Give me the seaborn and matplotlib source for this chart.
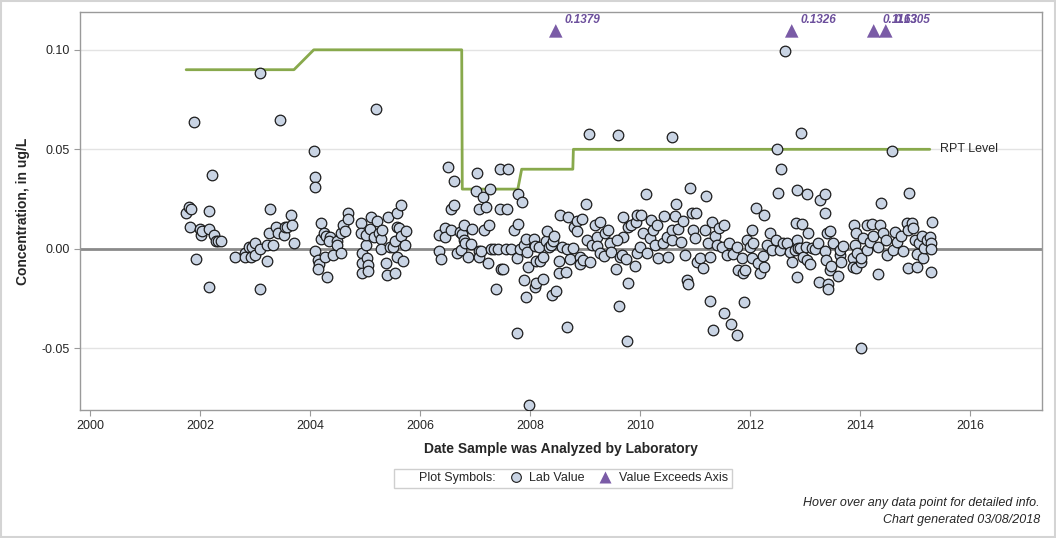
import numpy as np
import pandas as pd
import matplotlib
matplotlib.use('Agg')
import matplotlib.pyplot as plt
import seaborn as sns
from matplotlib.lines import Line2D
from matplotlib.patches import Rectangle

# lab values, grouped by period (decimal year, ug/L)
dates_a = [2001.75, 2001.80, 2001.84, 2001.82, 2001.89, 2001.93, 2002.00, 2002.02, 2002.04, 2002.16,
           2002.16, 2002.22, 2002.16, 2002.25, 2002.29, 2002.33, 2002.38, 2002.64, 2002.82, 2002.82,
           2002.89, 2002.93, 2002.95, 2003.00, 2003.00, 2003.09, 2003.09, 2003.09, 2003.22, 2003.22,
           2003.25, 2003.27, 2003.33, 2003.38, 2003.42, 2003.45, 2003.53, 2003.55, 2003.58, 2003.65,
           2003.67, 2003.71]
vals_a = [0.018, 0.021, 0.020, 0.011, 0.0635, -0.005, 0.010, 0.007, 0.009, 0.019,
          0.010, 0.037, -0.019, 0.007, 0.004, 0.004, 0.004, -0.004, -0.002, -0.004,
          0.001, -0.004, 0.001, 0.003, -0.003, 0.000, -0.020, 0.0885, -0.006, 0.002,
          0.008, 0.020, 0.002, 0.011, 0.008, 0.0645, 0.007, 0.011, 0.011, 0.017,
          0.012, 0.003]

dates_b = [2004.07, 2004.09, 2004.09, 2004.09, 2004.15, 2004.16, 2004.15, 2004.20, 2004.20, 2004.25,
           2004.27, 2004.31, 2004.29, 2004.36, 2004.35, 2004.42, 2004.49, 2004.49, 2004.56, 2004.56,
           2004.60, 2004.64, 2004.69, 2004.69, 2004.93, 2004.93, 2004.95, 2004.95, 2004.95, 2005.02,
           2005.02, 2005.04, 2005.05, 2005.05, 2005.09, 2005.11, 2005.16, 2005.20, 2005.22, 2005.25,
           2005.29, 2005.29, 2005.31, 2005.38, 2005.40, 2005.42, 2005.45, 2005.51, 2005.55, 2005.55,
           2005.58, 2005.58, 2005.58, 2005.62, 2005.65, 2005.65, 2005.69, 2005.73, 2005.75]
vals_b = [0.049, 0.036, 0.031, -0.001, -0.0055, -0.0075, -0.010, 0.013, 0.005, 0.008,
          -0.004, -0.014, 0.0065, 0.006, 0.004, -0.003, 0.004, 0.002, 0.008, -0.002,
          0.012, 0.009, 0.018, 0.015, 0.013, 0.008, -0.002, -0.007, -0.012, 0.002,
          0.007, -0.0045, -0.008, -0.011, 0.010, 0.016, 0.006, 0.0705, 0.014, 0.008,
          0.005, 0.000, 0.0095, -0.007, -0.013, 0.016, 0.001, 0.001, -0.012, 0.004,
          0.018, -0.004, 0.011, 0.0105, 0.0065, 0.022, -0.006, 0.002, 0.009]

dates_c = [2006.35, 2006.35, 2006.38, 2006.45, 2006.45, 2006.51, 2006.56, 2006.56, 2006.62, 2006.62,
           2006.67, 2006.73, 2006.75, 2006.76, 2006.80, 2006.80, 2006.82, 2006.87, 2006.93, 2006.95,
           2007.02, 2007.04, 2007.07, 2007.07, 2007.07, 2007.11, 2007.15, 2007.16, 2007.20, 2007.24,
           2007.25, 2007.27, 2007.29, 2007.35, 2007.38, 2007.42, 2007.45, 2007.45, 2007.47, 2007.51,
           2007.56, 2007.58, 2007.60, 2007.65, 2007.71, 2007.76, 2007.76, 2007.78, 2007.78, 2007.82,
           2007.85, 2007.89, 2007.89, 2007.93, 2007.93, 2007.95, 2007.96, 2007.98]
vals_c = [0.007, -0.001, -0.005, 0.0105, 0.006, 0.041, 0.020, 0.0095, 0.034, 0.022,
          -0.002, 0.0085, -0.0005, 0.0075, 0.012, 0.0045, 0.003, -0.004, 0.0025, 0.010,
          0.029, 0.038, 0.020, -0.001, -0.004, -0.001, 0.026, 0.0095, 0.021, -0.007,
          0.012, 0.030, 0.000, 0.000, -0.020, 0.000, 0.040, 0.020, -0.010, -0.010,
          0.000, 0.020, 0.040, 0.000, 0.0095, -0.0045, -0.0425, 0.0125, 0.0275, 0.000,
          0.0235, 0.002, -0.0155, 0.005, -0.024, -0.0015, -0.009, -0.0785]

dates_d = [2008.07, 2008.09, 2008.09, 2008.11, 2008.11, 2008.16, 2008.18, 2008.24, 2008.24, 2008.29,
           2008.31, 2008.35, 2008.38, 2008.40, 2008.42, 2008.44, 2008.47, 2008.53, 2008.53, 2008.55,
           2008.58, 2008.65, 2008.67, 2008.67, 2008.69, 2008.73, 2008.78, 2008.80, 2008.85, 2008.85,
           2008.91, 2008.91, 2008.95, 2008.96, 2009.02, 2009.04, 2009.07, 2009.09, 2009.13, 2009.18,
           2009.22, 2009.22, 2009.27, 2009.27, 2009.35, 2009.36, 2009.42, 2009.45, 2009.47, 2009.56,
           2009.60, 2009.62, 2009.64]
vals_d = [0.005, 0.0015, -0.019, -0.006, -0.017, 0.001, -0.006, -0.015, -0.004, 0.004,
          0.009, 0.001, 0.002, -0.023, 0.004, 0.0065, -0.021, -0.006, -0.012, 0.017,
          0.001, -0.0115, -0.0395, 0.000, 0.016, -0.005, 0.0005, 0.011, 0.014, 0.009,
          -0.004, -0.0075, 0.015, -0.0055, 0.0225, 0.0045, 0.0575, -0.0065, 0.002, 0.012,
          0.006, 0.0015, 0.0135, -0.002, -0.0035, 0.008, 0.0095, 0.003, -0.0015, -0.010,
          0.057, -0.0285, -0.004]

dates_e = [2009.69, 2009.67, 2009.69, 2009.58, 2009.75, 2009.76, 2009.78, 2009.78, 2009.84, 2009.91,
           2009.93, 2009.95, 2009.95, 2010.00, 2010.02, 2010.05, 2010.11, 2010.13, 2010.18, 2010.20,
           2010.24, 2010.27, 2010.31, 2010.33, 2010.42, 2010.44, 2010.49, 2010.51, 2010.58, 2010.58,
           2010.58, 2010.64, 2010.65, 2010.69, 2010.75, 2010.78, 2010.82, 2010.85, 2010.87, 2010.91,
           2010.95, 2010.96, 2011.00, 2011.02, 2011.04, 2011.09, 2011.15, 2011.18, 2011.20, 2011.24,
           2011.27, 2011.27, 2011.31, 2011.33, 2011.36, 2011.40, 2011.44, 2011.49, 2011.53, 2011.53,
           2011.58, 2011.62, 2011.65, 2011.69, 2011.76, 2011.76, 2011.78, 2011.85, 2011.87, 2011.89,
           2011.91, 2011.95, 2012.00, 2012.04, 2012.04, 2012.05, 2012.11, 2012.15, 2012.18, 2012.24,
           2012.25, 2012.25, 2012.31, 2012.36, 2012.40, 2012.47, 2012.49, 2012.51, 2012.55, 2012.56,
           2012.60, 2012.64, 2012.67, 2012.73, 2012.76, 2012.82, 2012.84, 2012.85, 2012.85, 2012.85,
           2012.87]
vals_e = [0.016, -0.003, 0.006, 0.0045, -0.005, -0.0465, -0.017, 0.011, 0.012, -0.0085,
          0.0135, 0.017, -0.002, 0.001, 0.017, 0.008, 0.0275, -0.002, 0.0055, 0.0145,
          0.0095, 0.002, 0.012, -0.0045, 0.003, 0.0165, 0.006, -0.004, 0.0095, 0.0045,
          0.056, 0.0165, 0.0225, 0.010, 0.0035, 0.014, -0.003, -0.0155, -0.0175, 0.0305,
          0.018, 0.0095, 0.0055, 0.018, -0.0065, -0.0045, -0.0095, 0.0095, 0.0265, 0.003,
          -0.004, -0.026, 0.0135, -0.041, 0.0065, 0.002, 0.0105, 0.001, 0.012, -0.0325,
          -0.003, 0.003, -0.038, -0.0025, 0.001, -0.0435, -0.0105, -0.0045, -0.012, -0.0265,
          -0.0105, 0.0045, 0.001, 0.0095, -0.0045, 0.003, 0.0205, -0.007, -0.012, -0.0035,
          0.017, -0.009, 0.002, 0.008, -0.0005, 0.0045, 0.050, 0.028, -0.0005, 0.040,
          0.003, 0.0995, 0.003, -0.0015, -0.0065, -0.0005, 0.013, 0.0295, -0.014, 0.0045,
          0.0005]

dates_f = [2012.91, 2012.93, 2012.95, 2012.96, 2013.02, 2013.04, 2013.04, 2013.05, 2013.09, 2013.13,
           2013.18, 2013.24, 2013.25, 2013.27, 2013.36, 2013.36, 2013.36, 2013.38, 2013.40, 2013.42,
           2013.42, 2013.45, 2013.45, 2013.47, 2013.51, 2013.60, 2013.64, 2013.64, 2013.65, 2013.69,
           2013.87, 2013.87, 2013.89, 2013.91, 2013.93, 2013.93, 2013.95, 2014.02, 2014.02, 2014.02,
           2014.05, 2014.13, 2014.13, 2014.18, 2014.22, 2014.24, 2014.33, 2014.33, 2014.36, 2014.38,
           2014.42, 2014.47, 2014.49, 2014.58, 2014.60, 2014.64, 2014.67, 2014.75, 2014.78, 2014.85,
           2014.87, 2014.87, 2014.89, 2014.95, 2014.96, 2015.00, 2015.04, 2015.04, 2015.07, 2015.13,
           2015.15, 2015.16, 2015.22, 2015.27, 2015.29, 2015.29, 2015.29, 2015.31]
vals_f = [0.0005, 0.058, 0.0125, -0.004, 0.001, 0.0275, -0.0055, 0.008, -0.0075, 0.0005,
          0.000, 0.003, -0.0165, 0.0245, 0.0275, 0.018, -0.001, -0.0055, 0.008, -0.0175,
          -0.020, 0.009, -0.0105, -0.0085, 0.003, -0.0135, -0.003, -0.0005, -0.0065, 0.0015,
          -0.0045, -0.009, 0.012, 0.002, 0.008, -0.0095, -0.002, -0.0065, -0.0045, -0.050,
          0.0055, -0.0005, 0.012, 0.0035, 0.0125, 0.0065, 0.001, -0.0125, 0.012, 0.023,
          0.008, 0.0045, -0.003, 0.049, -0.0005, 0.0085, 0.0035, 0.0065, -0.001, 0.013,
          0.0095, -0.0095, 0.028, 0.013, 0.0105, 0.0045, -0.0025, -0.009, 0.003, 0.0065,
          -0.0045, 0.0005, 0.0045, 0.006, 0.003, 0.000, -0.0115, 0.0135]

# values above the axis maximum (drawn as triangles at the top)
exceed_dates = [2008.47, 2012.76, 2014.25, 2014.47]
exceed_vals = [0.1379, 0.1326, 0.1163, 0.1305]

# reporting level over time
rpt_dates = [2001.75, 2003.71, 2004.07, 2006.76, 2006.77, 2007.78, 2007.85, 2008.78, 2008.79, 2015.27]
rpt_levels = [0.09, 0.09, 0.10, 0.10, 0.03, 0.03, 0.04, 0.04, 0.05, 0.05]

y_ticks = [-0.05, 0.00, 0.05, 0.10]
x_ticks = [2000, 2002, 2004, 2006, 2008, 2010, 2012, 2014, 2016]

sns.set_style('white')
plt.rcParams['font.family'] = ['Liberation Sans', 'DejaVu Sans']

df = pd.DataFrame({'date': dates_a + dates_b + dates_c + dates_d + dates_e + dates_f,
                   'value': vals_a + vals_b + vals_c + vals_d + vals_e + vals_f})

fig = plt.figure(figsize=(10.56, 5.38), dpi=100)
ax = fig.add_axes([80 / 1056, 1 - 410 / 538, 962 / 1056, 398 / 538])

ymin, ymax = -0.081, 0.119
cap = 0.1095
ax.set_xlim(1999.82, 2017.31)
ax.set_ylim(ymin, ymax)

for yt in y_ticks:
    if yt != 0:
        ax.axhline(yt, color='#e3e3e3', lw=1, zorder=0)
ax.axhline(0, color='#8a8a8a', lw=2, zorder=1)

sns.lineplot(x=rpt_dates, y=rpt_levels, sort=False, color='#88a94c', lw=2, ax=ax, zorder=2)
ax.annotate('RPT Level', (rpt_dates[-1], rpt_levels[-1]), xytext=(7, 0),
            textcoords='offset points', va='center', fontsize=9)

sns.scatterplot(data=df, x='date', y='value', s=58, color='#c9d4e4', edgecolor='#1c1c1c',
                linewidth=0.9, ax=ax, zorder=3)

sns.scatterplot(x=exceed_dates, y=[cap] * len(exceed_dates), marker='^', s=95,
                color='#7a5ba6', edgecolor='none', ax=ax, zorder=3)
for d, v in zip(exceed_dates, exceed_vals):
    ax.annotate(f'{v:.4f}', (d, cap), xytext=(6.5, 6), textcoords='offset points',
                fontsize=8.5, fontweight='bold', fontstyle='italic', color='#6c4f9c',
                va='baseline')

ax.set_xticks(x_ticks)
ax.set_xticklabels([str(x) for x in x_ticks])
ax.set_yticks(y_ticks)
ax.set_yticklabels([f'{y:.2f}' for y in y_ticks])
ax.tick_params(axis='both', which='both', length=4, width=0.8, color='#9a9a9a',
               labelsize=9, direction='out', bottom=True, left=True)
for sp in ax.spines.values():
    sp.set_color('#9a9a9a')
    sp.set_linewidth(1)

ax.set_xlabel('Date Sample was Analyzed by Laboratory', fontsize=10, fontweight='bold', labelpad=7)
ax.set_ylabel('Concentration, in ug/L', fontsize=10, fontweight='bold', labelpad=8)

handles = [Line2D([], [], linestyle='none'),
           Line2D([], [], linestyle='none', marker='o', markersize=7, markerfacecolor='#c9d4e4',
                  markeredgecolor='#1c1c1c', markeredgewidth=0.8),
           Line2D([], [], linestyle='none', marker='^', markersize=9, markerfacecolor='#7a5ba6',
                  markeredgecolor='none')]
leg = fig.legend(handles, ['Plot Symbols:', 'Lab Value', 'Value Exceeds Axis'], ncol=3,
                 loc='center', bbox_to_anchor=(0.533, 0.111), frameon=True, fancybox=False,
                 edgecolor='#c4c4c4', fontsize=9, handlelength=1.2, handletextpad=0.5,
                 columnspacing=1.0, borderpad=0.3)
leg.get_frame().set_linewidth(1)

fig.text(1040 / 1056, 1 - 503 / 538, 'Hover over any data point for detailed info.',
         ha='right', va='center', fontsize=9, fontstyle='italic')
fig.text(1040 / 1056, 1 - 520 / 538, 'Chart generated 03/08/2018',
         ha='right', va='center', fontsize=9, fontstyle='italic')

fig.patches.append(Rectangle((0.001, 0.001), 0.998, 0.997, transform=fig.transFigure,
                             fill=False, edgecolor='#d4d4d4', lw=1.5))

fig.savefig('out.png', dpi=100)
